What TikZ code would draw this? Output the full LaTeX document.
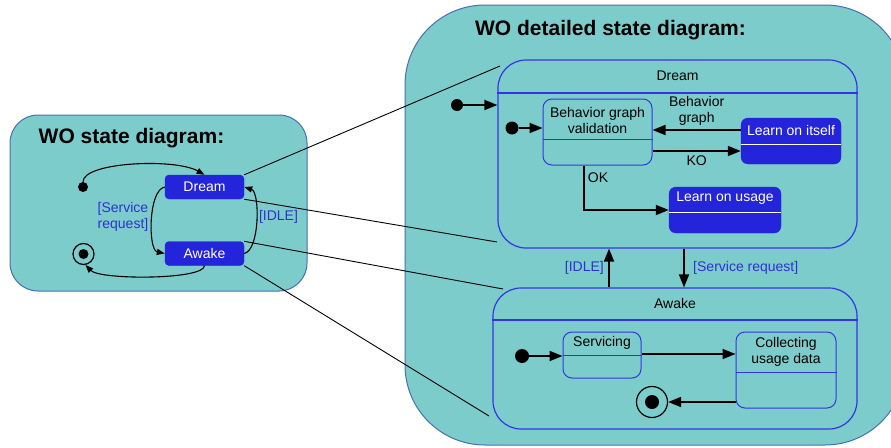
\documentclass[tikz,border=0pt]{standalone}
\usepackage{fontspec}
\setmainfont{Liberation Sans}
\usetikzlibrary{arrows.meta}
\definecolor{seagreen}{RGB}{124,204,204}
\definecolor{rimblue}{RGB}{72,112,176}
\definecolor{stateblue}{RGB}{36,36,218}
\definecolor{lineblue}{RGB}{52,52,226}
\definecolor{guardblue}{RGB}{48,48,210}
\tikzset{
  region/.style={draw=rimblue, fill=seagreen, line width=1pt},
  compound/.style={draw=lineblue, line width=1.2pt, rounded corners=28pt, inner sep=0pt},
  simple/.style={draw=lineblue, line width=1pt, rounded corners=9pt, inner sep=0pt},
  active/.style={draw=stateblue, fill=stateblue, rounded corners=7pt, inner sep=0pt},
  chip/.style={draw=stateblue, fill=stateblue, text=white, rounded corners=4pt, inner sep=0pt, minimum width=79pt, minimum height=24pt},
  startdot/.style={circle, fill=black, inner sep=0pt, minimum size=#1},
  startdot/.default=13pt,
  endring/.style={circle, draw, line width=1.2pt, inner sep=0pt, minimum size=#1},
  trans/.style={line width=1.8pt, -{Triangle[length=13pt,width=10pt]}},
  smalltrans/.style={line width=1.1pt, -{Triangle[length=8pt,width=6pt]}},
  link/.style={line width=0.9pt},
  guard/.style={text=guardblue, align=center},
  caption/.style={font={\fontsize{21}{25}\selectfont\bfseries}},
}
\begin{document}
\begin{tikzpicture}[x=1pt, y=-1pt, font={\fontsize{14}{16}\selectfont}]
  \useasboundingbox (0,0) rectangle (891,447);
  \draw[region, rounded corners=28pt] (10,115) rectangle (307,291);
  \begin{scope}
    \clip (0,0) rectangle (891,447);
    \draw[region, rounded corners=80pt] (405,5) rectangle (905,445);
  \end{scope}

  \node[caption] (smalltitle) at (131.5,138) {WO state diagram:};
  \node[caption] (bigtitle) at (610.5,30) {WO detailed state diagram:};

  \node[chip] (dreamL) at (204.5,187) {Dream};
  \node[chip] (awakeL) at (204.5,253.5) {Awake};
  \node[startdot=10pt] (startL) at (83,187) {};
  \node[endring=21pt] (endL) at (83.5,254) {};
  \fill (endL) circle (5pt);

  \draw[smalltrans] (startL.north) .. controls (83,162) and (175,158) .. (dreamL.north);
  \draw[smalltrans] (dreamL.west) .. controls (148,190) and (148,250) .. (awakeL.west);
  \draw[smalltrans] (awakeL.east) .. controls (260,250) and (260,192) .. (dreamL.east);
  \draw[smalltrans] (awakeL.south) .. controls (204,280) and (100,280) .. (endL.-80);
  \node[guard] (serviceL) at (123,217) {[Service\\request]};
  \node[guard] (idleL) at (278.5,217) {[IDLE]};

  \node[compound, minimum width=359pt, minimum height=188pt] (dreamC) at (677.5,154) {};
  \node (dreamname) at (677.5,76) {Dream};
  \draw[lineblue, line width=1.2pt] (dreamC.west |- 0,93) -- (dreamC.east |- 0,93);
  \node[startdot=12pt] (dreamin) at (457,105) {};
  \draw[trans] (dreamin.east) -- (dreamin -| dreamC.west);

  \node[simple, minimum width=109pt, minimum height=66pt] (bgv) at (597.5,132) {};
  \node[align=center] (bgvname) at (597.5,120) {Behavior graph\\validation};
  \draw[lineblue, line width=1pt] (bgv.west |- 0,139) -- (bgv.east |- 0,139);
  \node[active, minimum width=100pt, minimum height=46pt] (selflearn) at (791,141) {};
  \node[text=white] (selfname) at (791,130) {Learn on itself};
  \draw[white, line width=1pt] (selflearn.west |- 0,144) -- (selflearn.east |- 0,144);
  \node[active, minimum width=112pt, minimum height=46pt] (usagelearn) at (725,210) {};
  \node[text=white] (usagename) at (725,198) {Learn on usage};
  \draw[white, line width=1pt] (usagelearn.west |- 0,212) -- (usagelearn.east |- 0,212);

  \node[startdot] (bgvin) at (512,128) {};
  \draw[trans] (bgvin.east) -- (bgvin -| bgv.west);
  \draw[trans] (selflearn.west |- 0,130) -- (bgv.east |- 0,130) node[midway, above, align=center] (graphlbl) {Behavior\\graph};
  \draw[trans] (bgv.east |- 0,151) -- (selflearn.west |- 0,151) node[midway, below] (kolbl) {KO};
  \draw[trans] ([xshift=-13.5pt]bgv.south) |- (usagelearn.west);
  \node (oklbl) at (598,178) {OK};

  \node[compound, minimum width=364pt, minimum height=141pt] (awakeC) at (675,358.5) {};
  \node (awakename) at (675,303) {Awake};
  \draw[lineblue, line width=1.2pt] (awakeC.west |- 0,320) -- (awakeC.east |- 0,320);
  \draw[trans] (awakeC.north -| 609,0) -- (dreamC.south -| 609,0) node[midway, left=1pt, guard] (idleR) {[IDLE]};
  \draw[trans] (dreamC.south -| 684,0) -- (awakeC.north -| 684,0) node[midway, right=5pt, guard] (serviceR) {[Service request]};

  \node[simple, minimum width=78pt, minimum height=46pt] (servicing) at (602,355) {};
  \node (svcname) at (602,343) {Servicing};
  \draw[lineblue, line width=1pt] (servicing.west) -- (servicing.east);
  \node[simple, minimum width=100pt, minimum height=76pt] (collecting) at (786,370) {};
  \node[align=center] (colname) at (786,352) {Collecting\\usage data};
  \draw[lineblue, line width=1pt] (collecting.west |- 0,372) -- (collecting.east |- 0,372);
  \node[startdot=14pt] (awakein) at (522,356) {};
  \draw[trans] (awakein.east) -- (awakein -| servicing.west);
  \draw[trans] (servicing.east |- 0,354) -- (collecting.west |- 0,354);
  \node[endring=31pt] (awakeend) at (652,402) {};
  \fill (awakeend) circle (7pt);
  \draw[trans] (collecting.west |- 0,402) -- (awakeend.east);

  \coordinate (dreamTop) at (500,66);
  \coordinate (dreamBot) at (497,242);
  \coordinate (awakeTop) at (503,289);
  \coordinate (awakeBot) at (489,416);
  \draw[link] (dreamL.north east) -- (dreamTop);
  \draw[link] (dreamL.south east) -- (dreamBot);
  \draw[link] (awakeL.north east) -- (awakeTop);
  \draw[link] (awakeL.south east) -- (awakeBot);
\end{tikzpicture}
\end{document}
